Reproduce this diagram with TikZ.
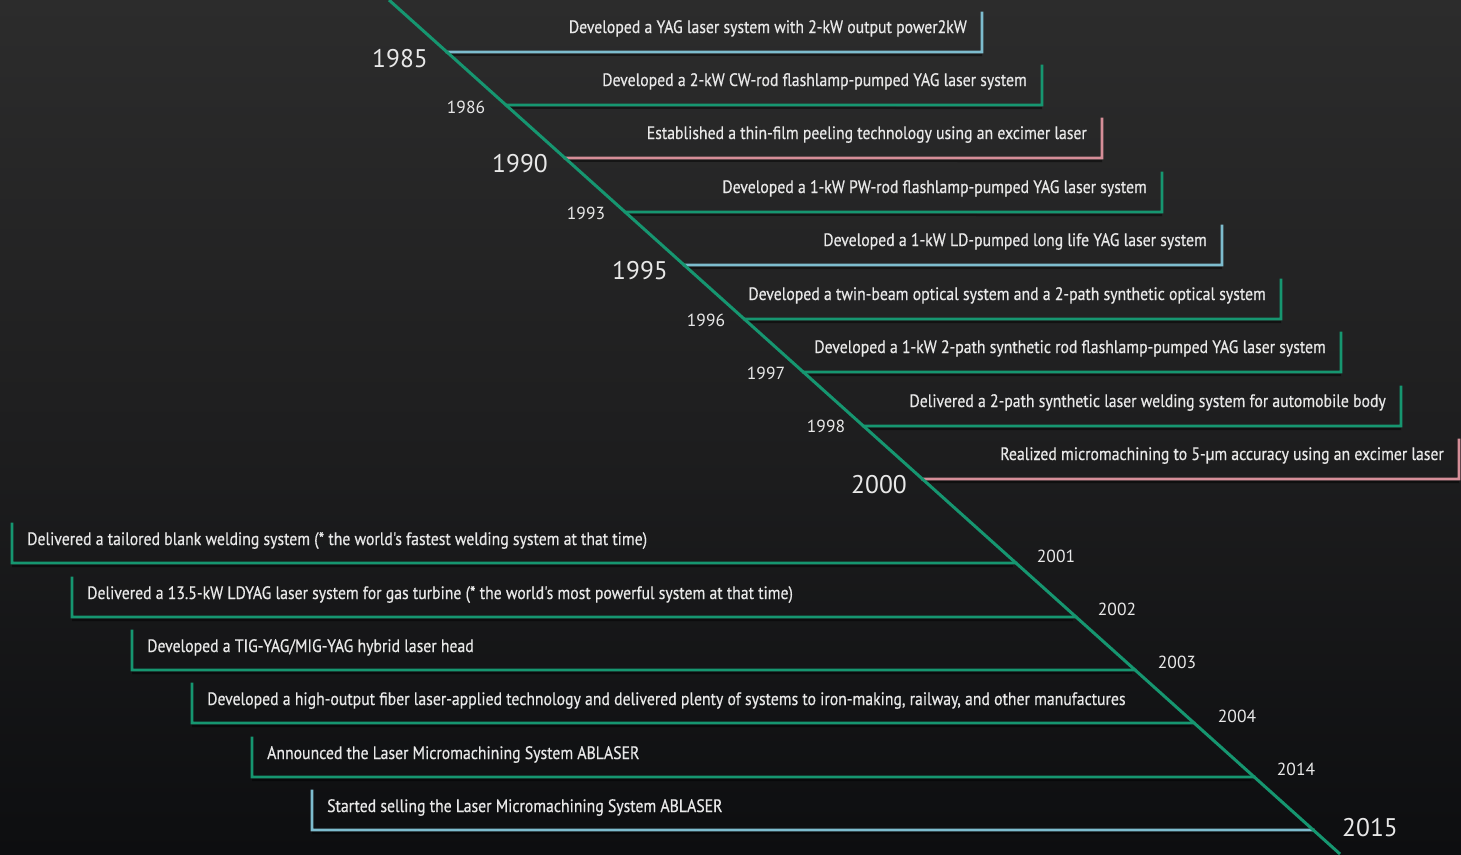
\documentclass[tikz,border=0pt]{standalone}
\usepackage{fontspec}
\usetikzlibrary{calc}
\newfontfamily\labelfont[FakeStretch=0.875,FakeBold=0.5]{PT Sans}
\newfontfamily\yearfont{PT Sans}
\definecolor{bgtop}{RGB}{44,44,44}
\definecolor{bgmid}{RGB}{30,30,31}
\definecolor{bgbot}{RGB}{13,14,16}
\definecolor{lgreen}{RGB}{22,150,112}
\definecolor{lblue}{RGB}{125,188,206}
\definecolor{lpink}{RGB}{214,142,152}
\definecolor{txt}{RGB}{232,232,232}
\tikzset{
  axisline/.style={draw=lgreen, line width=3pt},
  itemline/.style={line width=2.6pt, line cap=rect},
  shadowline/.style={draw=black, opacity=0.45, line width=2pt},
  evtext/.style={font=\labelfont\fontsize{18}{20}\selectfont, text=txt, inner sep=0pt},
  bigyear/.style={font=\yearfont\fontsize{25.5}{28}\selectfont, text=txt, inner sep=0pt, anchor=base},
  smallyear/.style={font=\yearfont\fontsize{17.5}{19}\selectfont, text=txt, inner sep=0pt, anchor=base},
}
% top item: name, y, right x, colour, text
\newcommand\topevent[5]{%
  \coordinate (#1s) at ($(dtop)!{#2/854}!(dbot)$);
  \coordinate (#1c) at (#3,#2);
  \coordinate (#1t) at (#3,#2-39);
  \draw[shadowline] ($(#1s)+(3,3)$) -- ($(#1c)+(0,3)$);
  \draw[itemline, draw=#4] (#1s) -- (#1c) -- (#1t);
  \node[evtext, anchor=base east] (#1x) at (#3-15,#2-19) {#5};
}
% lower item: name, y, left x, colour, text
\newcommand\lowevent[5]{%
  \coordinate (#1s) at ($(dtop)!{#2/854}!(dbot)$);
  \coordinate (#1c) at (#3,#2);
  \coordinate (#1t) at (#3,#2-39);
  \draw[shadowline] ($(#1s)+(-3,3)$) -- ($(#1c)+(0,3)$);
  \draw[itemline, draw=#4] (#1s) -- (#1c) -- (#1t);
  \node[evtext, anchor=base west] (#1x) at (#3+15,#2-18) {#5};
}
\begin{document}
\begin{tikzpicture}[x=1pt,y=-1pt]
\shade[top color=bgtop, bottom color=bgbot, middle color=bgmid] (0,0) rectangle (1461,854);
\useasboundingbox (0,0) rectangle (1461,854);
\coordinate (dtop) at (389,0);
\coordinate (dbot) at (1340,854);

\topevent{e85}{52}{982}{lblue}{Developed a YAG laser system with 2-kW output power2kW}
\topevent{e86}{105}{1042}{lgreen}{Developed a 2-kW CW-rod flashlamp-pumped YAG laser system}
\topevent{e90}{158}{1102}{lpink}{Established a thin-film peeling technology using an excimer laser}
\topevent{e93}{212}{1162}{lgreen}{Developed a 1-kW PW-rod flashlamp-pumped YAG laser system}
\topevent{e95}{265}{1222}{lblue}{Developed a 1-kW LD-pumped long life YAG laser system}
\topevent{e96}{319}{1281}{lgreen}{Developed a twin-beam optical system and a 2-path synthetic optical system}
\topevent{e97}{372}{1341}{lgreen}{Developed a 1-kW 2-path synthetic rod flashlamp-pumped YAG laser system}
\topevent{e98}{426}{1401}{lgreen}{Delivered a 2-path synthetic laser welding system for automobile body}
\topevent{e00}{479}{1459}{lpink}{Realized micromachining to 5-µm accuracy using an excimer laser}

\lowevent{e01}{563}{12}{lgreen}{Delivered a tailored blank welding system (* the world's fastest welding system at that time)}
\lowevent{e02}{617}{72}{lgreen}{Delivered a 13.5-kW LDYAG laser system for gas turbine (* the world's most powerful system at that time)}
\lowevent{e03}{670}{132}{lgreen}{Developed a TIG-YAG/MIG-YAG hybrid laser head}
\lowevent{e04}{723}{192}{lgreen}{Developed a high-output fiber laser-applied technology and delivered plenty of systems to iron-making, railway, and other manufactures}
\lowevent{e14}{777}{252}{lgreen}{Announced the Laser Micromachining System ABLASER}
\lowevent{e15}{830}{312}{lblue}{Started selling the Laser Micromachining System ABLASER}

\draw[axisline] (dtop) -- (dbot);

\node[bigyear] (y1985) at (400,67) {1985};
\node[smallyear] (y1986) at (466,113) {1986};
\node[bigyear] (y1990) at (520,172.5) {1990};
\node[smallyear] (y1993) at (586,219.5) {1993};
\node[bigyear] (y1995) at (640,279.5) {1995};
\node[smallyear] (y1996) at (706,326.5) {1996};
\node[smallyear] (y1997) at (766,379.5) {1997};
\node[smallyear] (y1998) at (826,432.5) {1998};
\node[bigyear] (y2000) at (879,493.5) {2000};
\node[smallyear] (y2001) at (1056,562.5) {2001};
\node[smallyear] (y2002) at (1117,615.5) {2002};
\node[smallyear] (y2003) at (1177,668.5) {2003};
\node[smallyear] (y2004) at (1237,722.5) {2004};
\node[smallyear] (y2014) at (1296,775.5) {2014};
\node[bigyear] (y2015) at (1370,836.5) {2015};
\end{tikzpicture}
\end{document}
